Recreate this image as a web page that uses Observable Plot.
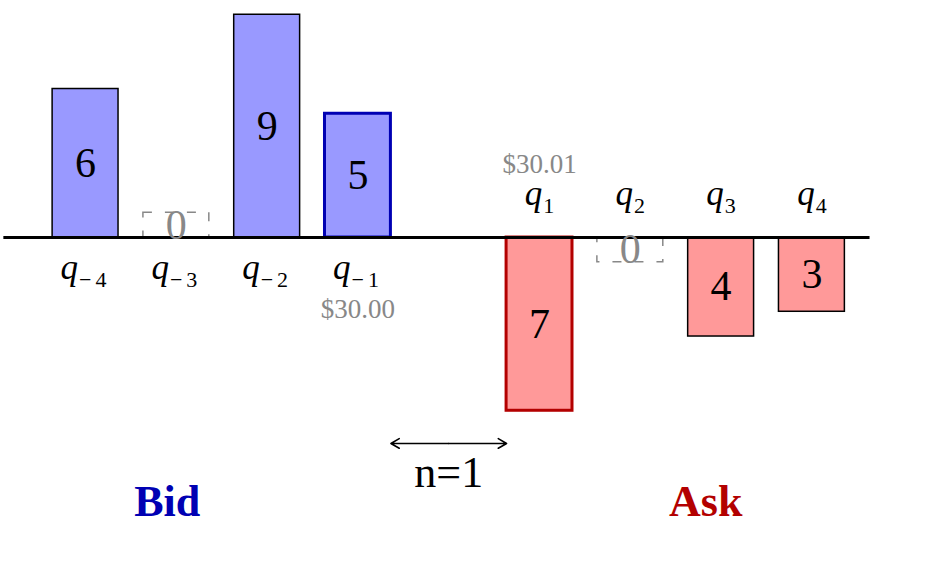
<!DOCTYPE html>
<html>
<head>
<meta charset="utf-8">
<script src="https://cdn.jsdelivr.net/npm/d3@7"></script>
<script src="https://cdn.jsdelivr.net/npm/@observablehq/plot@0.6"></script>
<style>
  body { margin: 0; background: white; }
</style>
</head>
<body>
<div id="chart"></div>
<script>
// order book levels
const bidPos = [-4, -3, -2, -1];
const bidQty = [6, 0, 9, 5];
const bidSub = ["−4", "−3", "−2", "−1"];
const askPos = [1, 2, 3, 4];
const askQty = [7, 0, 4, 3];
const askSub = ["1", "2", "3", "4"];
const bestBidPrice = "$30.00";
const bestAskPrice = "$30.01";
const tickSize = "n=1";
const sideNames = ["Bid", "Ask"];

// layout (data units)
const halfW = 0.363;
const axisExtent = [-4.9, 4.64];
const arrowY = -8.32;
const tickLabelY = -9.5;
const sideX = [-3.1, 2.83];
const sideY = -10.67;

const blueFill = "#9999ff", redFill = "#ff9999";
const blueDark = "#0000b3", redDark = "#b30000", grey = "#888888";

let bars = [
  ...bidPos.map((p, i) => ({pos: p, q: bidQty[i], sign: 1, sub: bidSub[i], best: p === -1})),
  ...askPos.map((p, i) => ({pos: p, q: askQty[i], sign: -1, sub: askSub[i], best: p === 1}))
];
let full = bars.filter(d => d.q !== 0);
let empty = bars.filter(d => d.q === 0);

let chart = Plot.plot({
  width: 925,
  height: 562,
  margin: 0,
  x: {axis: null, domain: [-4.937, 5.251]},
  y: {axis: null, domain: [-13.13, 9.576]},
  style: {fontFamily: "Liberation Serif", background: "white"},
  marks: [
    Plot.rect(full.filter(d => !d.best), {
      x1: d => d.pos - halfW, x2: d => d.pos + halfW,
      y1: 0, y2: d => d.sign * d.q,
      fill: d => d.sign > 0 ? blueFill : redFill,
      stroke: "black", strokeWidth: 1.5
    }),
    Plot.rect(full.filter(d => d.best), {
      x1: d => d.pos - halfW, x2: d => d.pos + halfW,
      y1: 0, y2: d => d.sign * d.q,
      fill: d => d.sign > 0 ? blueFill : redFill,
      stroke: d => d.sign > 0 ? blueDark : redDark, strokeWidth: 3
    }),
    Plot.rect(empty, {
      x1: d => d.pos - halfW, x2: d => d.pos + halfW,
      y1: 0, y2: d => d.sign,
      fill: "none", stroke: grey, strokeWidth: 1.5, strokeDasharray: "9,13"
    }),
    Plot.ruleY([0], {x1: axisExtent[0], x2: axisExtent[1], stroke: "black", strokeWidth: 3}),
    Plot.text(full, {
      x: "pos", y: d => d.sign * d.q / 2, text: d => String(d.q),
      fontSize: 42, fill: "black"
    }),
    Plot.text(empty, {
      x: "pos", y: d => d.sign / 2, text: d => String(d.q),
      fontSize: 42, fill: grey
    }),
    Plot.text(bars.filter(d => d.sign > 0), {
      x: "pos", y: 0, dy: 30, text: d => "q|" + d.sub,
      fontSize: 35, fill: "black"
    }),
    Plot.text(bars.filter(d => d.sign < 0), {
      x: "pos", y: 0, dy: -44, text: d => "q|" + d.sub,
      fontSize: 35, fill: "black"
    }),
    Plot.text(bars.filter(d => d.best && d.sign > 0), {
      x: "pos", y: 0, dy: 72, text: () => bestBidPrice,
      fontSize: 27, fill: grey, letterSpacing: 1
    }),
    Plot.text(bars.filter(d => d.best && d.sign < 0), {
      x: "pos", y: 0, dy: -73, text: () => bestAskPrice,
      fontSize: 27, fill: grey, letterSpacing: 1
    }),
    // double-headed arrow between best bid and best ask
    Plot.arrow([-1 + halfW, 1 - halfW], {
      x1: 0, x2: d => d, y1: arrowY, y2: arrowY,
      stroke: "black", strokeWidth: 1.6, headLength: 9
    }),
    Plot.text([tickSize], {x: 0, y: tickLabelY, text: d => d, fontSize: 44, fill: "black"}),
    Plot.text(sideNames, {
      x: (d, i) => sideX[i], y: sideY, text: d => d,
      fontSize: 44, fontWeight: "bold",
      fill: d => d === "Bid" ? blueDark : redDark
    })
  ]
});

// q with a subscript: split "q|−4" into two tspans
d3.select(chart).selectAll("text").filter(function () {
  return this.textContent.includes("|");
}).each(function () {
  let parts = this.textContent.split("|");
  let el = d3.select(this);
  el.text(null);
  el.append("tspan").attr("font-style", "italic").text(parts[0]);
  el.append("tspan")
    .attr("font-size", 22).attr("dy", 8).attr("dx", 1)
    .attr("letter-spacing", parts[1].length > 1 ? 4 : 0)
    .text(parts[1]);
});

d3.select("#chart").append(() => chart);
</script>
</body>
</html>
